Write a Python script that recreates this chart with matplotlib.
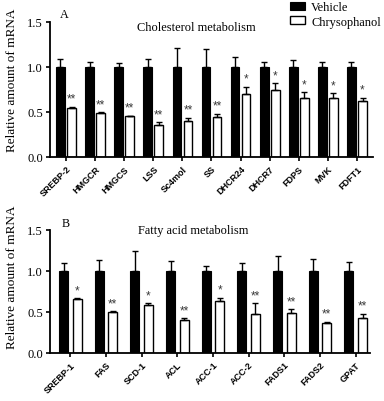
import numpy as np
import matplotlib
matplotlib.use("Agg")
import matplotlib.pyplot as plt

# Panel A: cholesterol metabolism genes
chol_genes = ["SREBP-2", "HMGCR", "HMGCS", "LSS", "Sc4mol", "SS",
              "DHCR24", "DHCR7", "FDPS", "MVK", "FDFT1"]
chol_vehicle = [1.0] * 11
chol_vehicle_err = [0.085, 0.05, 0.04, 0.085, 0.21, 0.195, 0.11, 0.055, 0.08, 0.055, 0.055]
chol_chryso = [0.542, 0.487, 0.45, 0.36, 0.40, 0.443, 0.697, 0.745, 0.65, 0.653, 0.616]
chol_chryso_err = [0.015, 0.008, 0.01, 0.024, 0.035, 0.033, 0.083, 0.07, 0.066, 0.052, 0.041]
chol_stars = ["**", "**", "**", "**", "**", "**", "*", "*", "*", "*", "*"]

# Panel B: fatty acid metabolism genes
fa_genes = ["SREBP-1", "FAS", "SCD-1", "ACL", "ACC-1", "ACC-2", "FADS1", "FADS2", "GPAT"]
fa_vehicle = [1.0] * 9
fa_vehicle_err = [0.09, 0.13, 0.24, 0.12, 0.06, 0.10, 0.18, 0.14, 0.105]
fa_chryso = [0.656, 0.50, 0.579, 0.397, 0.636, 0.474, 0.482, 0.368, 0.43]
fa_chryso_err = [0.008, 0.01, 0.024, 0.024, 0.036, 0.13, 0.052, 0.012, 0.045]
fa_stars = ["*", "**", "*", "**", "*", "**", "**", "**", "**"]

yticks = [0.0, 0.5, 1.0, 1.5]

serif = ["Liberation Serif", "DejaVu Serif"]
sans = ["Liberation Sans", "DejaVu Sans"]


def panel(ax, genes, veh, veh_err, chy, chy_err, stars, width, off, xlim):
    x = np.arange(len(genes))
    b1 = ax.bar(x - off, veh, width, color="black", edgecolor="black", linewidth=0.8,
                yerr=[np.zeros(len(veh)), veh_err], capsize=2.2,
                error_kw=dict(ecolor="black", elinewidth=1.0, capthick=1.0))
    b2 = ax.bar(x + off, chy, width, color="white", edgecolor="black", linewidth=1.0,
                yerr=[np.zeros(len(chy)), chy_err], capsize=2.2,
                error_kw=dict(ecolor="black", elinewidth=1.0, capthick=1.0))
    for xi, v, e, s in zip(x, chy, chy_err, stars):
        ax.text(xi + off, v + e + 0.025, s, ha="center", va="bottom",
                fontsize=8.5, color="#3a3a3a", family=sans)
    ax.set_xlim(*xlim)
    ax.set_ylim(0, 1.5)
    ax.set_yticks(yticks)
    ax.set_yticklabels([f"{t:.1f}" for t in yticks], family=serif, fontsize=9)
    ax.set_xticks(x)
    ax.set_xticklabels(genes, rotation=45, ha="right", rotation_mode="anchor",
                       family=sans, fontweight="bold", fontsize=6.5)
    ax.spines["top"].set_visible(False)
    ax.spines["right"].set_visible(False)
    ax.spines["left"].set_linewidth(1.3)
    ax.spines["bottom"].set_linewidth(1.3)
    ax.tick_params(axis="both", direction="out", length=3, width=1.2, pad=2)
    return b1, b2


fig = plt.figure(figsize=(3.84, 4.02), dpi=100)
W, H = 384.0, 402.0

ax1 = fig.add_axes([50 / W, 1 - 158 / H, 323 / W, 135.3 / H])
b1, b2 = panel(ax1, chol_genes, chol_vehicle, chol_vehicle_err, chol_chryso, chol_chryso_err,
               chol_stars, 0.3, 0.19, (-0.55, 10.55))

ax2 = fig.add_axes([50 / W, 1 - 354 / H, 320 / W, 123.3 / H])
panel(ax2, fa_genes, fa_vehicle, fa_vehicle_err, fa_chryso, fa_chryso_err,
      fa_stars, 0.25, 0.19, (-0.57, 8.4))

fig.text(12 / W, 1 - 80.5 / H, "Relative amount of mRNA", rotation=90, ha="center", va="center",
         family=serif, fontsize=9.5)
fig.text(12 / W, 1 - 277 / H, "Relative amount of mRNA", rotation=90, ha="center", va="center",
         family=serif, fontsize=9.5)

fig.text(196 / W, 1 - 28 / H, "Cholesterol metabolism", ha="center", va="center",
         family=serif, fontsize=8.9)
fig.text(193 / W, 1 - 231 / H, "Fatty acid metabolism", ha="center", va="center",
         family=serif, fontsize=8.9)

fig.text(64 / W, 1 - 15 / H, "A", ha="center", va="center", family=serif, fontsize=8.7)
fig.text(66 / W, 1 - 224 / H, "B", ha="center", va="center", family=serif, fontsize=8.7)

fig.legend([b1, b2], ["Vehicle", "Chrysophanol"], loc="upper left",
           bbox_to_anchor=(289 / W, 1 - 1 / H), frameon=False,
           prop={"family": serif, "size": 8.9}, handlelength=1.2, handleheight=0.6,
           handletextpad=0.5, labelspacing=0.2, borderpad=0.1, borderaxespad=0)

fig.savefig("out.png", dpi=100)
